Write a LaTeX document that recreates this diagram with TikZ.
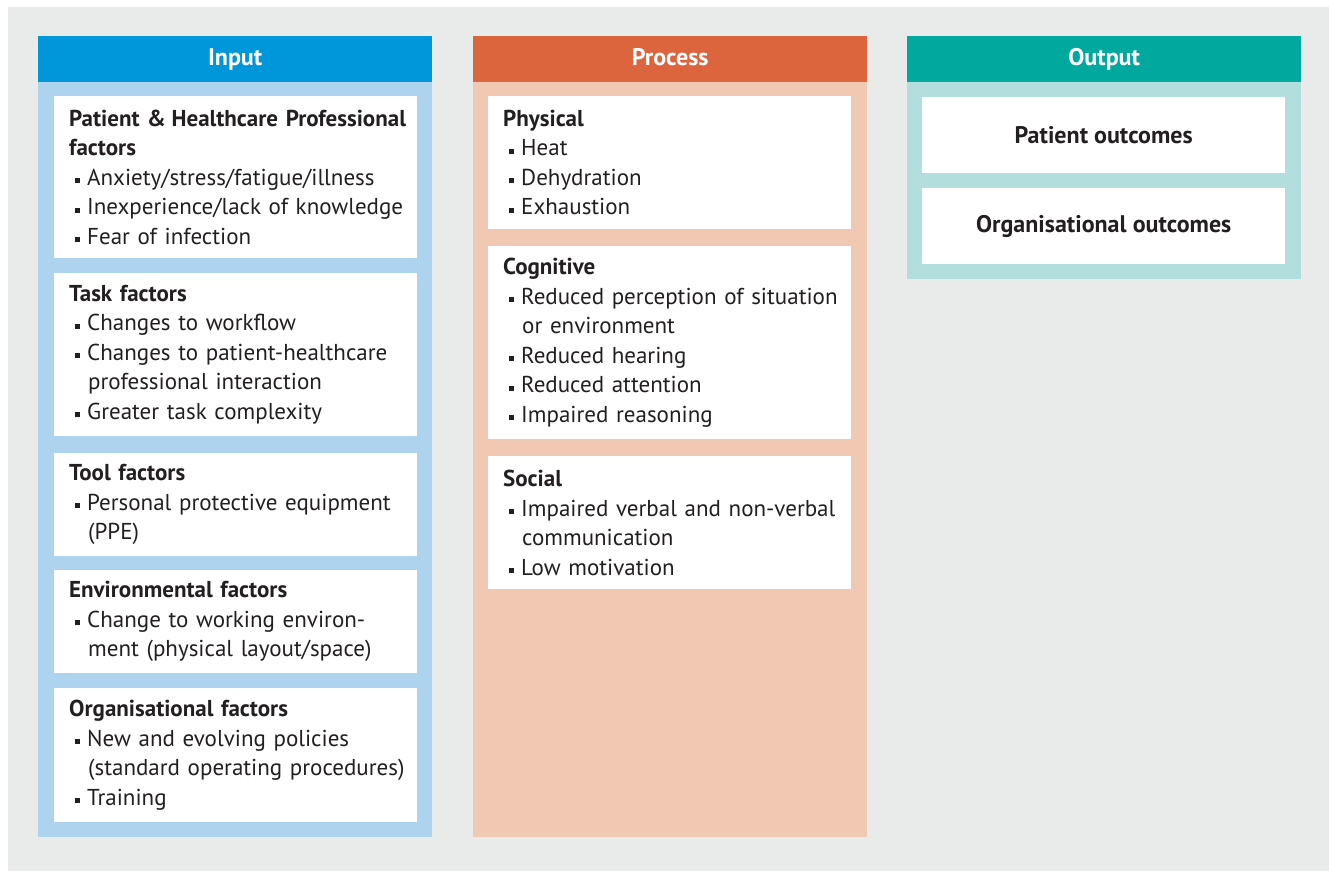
\documentclass[tikz,border=0pt]{standalone}
\usepackage{fontspec}
\setmainfont{PT Sans}
\usetikzlibrary{positioning}

\definecolor{pagegray}{RGB}{233,235,235}
\definecolor{inhead}{RGB}{0,150,218}
\definecolor{inbody}{RGB}{174,211,239}
\definecolor{prochead}{RGB}{220,101,61}
\definecolor{procbody}{RGB}{241,200,178}
\definecolor{outhead}{RGB}{0,168,158}
\definecolor{outbody}{RGB}{178,222,221}
\definecolor{textdark}{RGB}{35,31,32}

% line starts inside a factor box
\newcommand{\ttl}[1]{\hspace*{12pt}\textbf{#1}}
\newcommand{\itm}{\hspace*{18pt}\rule[2pt]{5pt}{5pt}\hspace{7pt}}
\newcommand{\cont}{\hspace*{31pt}}

\begin{document}
\begin{tikzpicture}[x=1pt, y=-1pt, font=\fontsize{23}{29.5}\selectfont, text=textdark,
  headbox/.style = {minimum width=394pt, minimum height=46pt, anchor=north west, inner sep=0pt, text height=12pt, text depth=0pt, text=white, font=\fontsize{24}{25}\selectfont\bfseries},
  colbox/.style = {minimum width=394pt, anchor=north west, inner sep=0pt},
  factorbox/.style = {fill=white, anchor=north west, text width=357pt, inner xsep=3pt, inner ysep=0pt, align=left},
  outbox/.style = {fill=white, anchor=north west, minimum width=363pt, minimum height=76pt, inner sep=0pt, font=\fontsize{24}{25}\selectfont\bfseries}
]
\useasboundingbox (0,0) rectangle (1329,871);
\fill[pagegray] (8,7) rectangle (1329,871);

% Input column
\node[colbox, fill=inbody, minimum height=755pt] (in_col) at (38,82) {};
\node[headbox, fill=inhead] (in_head) at (38,36) {Input};
\node[factorbox, minimum height=162pt] (in_patient) at (54,96) {\ttl{Patient \&\hspace{-2pt} Healthcare Professional}\\\ttl{factors}\\\itm Anxiety/stress/fatigue/illness\\\itm Inexperience/lack of knowledge\\\itm Fear of infection};
\node[factorbox, minimum height=163pt] (in_task) at (54,273) {\ttl{Task factors}\\\itm Changes to workflow\\\itm Changes to patient-healthcare\\\cont professional interaction\\\itm Greater task complexity};
\node[factorbox, minimum height=103pt] (in_tool) at (54,453) {\ttl{Tool factors}\\\itm Personal protective equipment\\\cont (PPE)};
\node[factorbox, minimum height=103pt] (in_env) at (54,570) {\ttl{Environmental factors}\\\itm Change to working environ-\\\cont ment (physical layout/space)};
\node[factorbox, minimum height=134pt] (in_org) at (54,688) {\ttl{Organisational factors}\\\itm New and evolving policies\\\cont (standard operating procedures)\\\itm Training};

% Process column
\node[colbox, fill=procbody, minimum height=755pt] (proc_col) at (473,82) {};
\node[headbox, fill=prochead] (proc_head) at (473,36) {Process};
\node[factorbox, minimum height=133pt] (proc_phys) at (488,96) {\ttl{Physical}\\\itm Heat\\\itm Dehydration\\\itm Exhaustion};
\node[factorbox, minimum height=193pt] (proc_cog) at (488,246) {\ttl{Cognitive}\\\itm Reduced perception of situation\\\cont or environment\\\itm Reduced hearing\\\itm Reduced attention\\\itm Impaired reasoning};
\node[factorbox, minimum height=133pt] (proc_soc) at (488,456) {\ttl{Social}\\\itm Impaired verbal and non-verbal\\\cont communication\\\itm Low motivation};

% Output column
\node[colbox, fill=outbody, minimum height=197pt] (out_col) at (907,82) {};
\node[headbox, fill=outhead] (out_head) at (907,36) {Output};
\node[outbox] (out_patient) at (922,97) {Patient outcomes};
\node[outbox] (out_org) at (922,188) {Organisational outcomes};
\end{tikzpicture}
\end{document}
